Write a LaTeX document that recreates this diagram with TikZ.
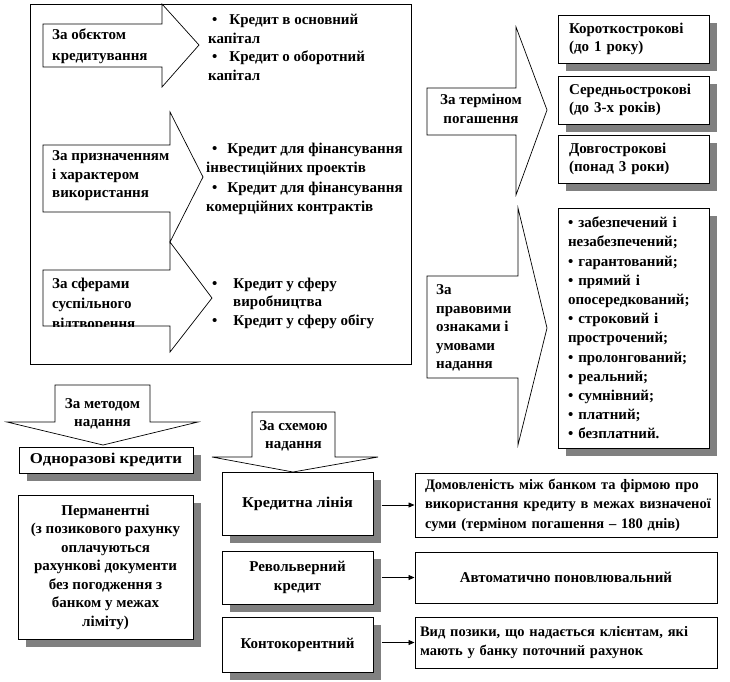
\documentclass[tikz,border=0pt]{standalone}
\usepackage{fontspec}
\usepackage{graphicx}
\setmainfont{Liberation Serif}
\usetikzlibrary{arrows.meta,shadows}
\begin{document}
\begin{tikzpicture}[x=1pt,y=-1pt,
  every node/.style={font=\fontsize{15}{18.5}\selectfont\bfseries, inner sep=0pt},
  arr/.style={draw, fill=white, line width=0.7pt, line join=miter},
  frame/.style={draw, line width=1pt},
  sbox/.style={draw, fill=white, line width=1pt, drop shadow={shadow xshift=8pt, shadow yshift=-8pt, opacity=1, fill=black!50}},
  pbox/.style={draw, fill=white, line width=1pt},
  conn/.style={line width=0.8pt, -{Triangle[length=6pt,width=5pt]}},
  txt/.style={align=left, anchor=west},
  smallfont/.style={font=\fontsize{14.5}{19.5}\selectfont\bfseries},
]
\useasboundingbox (0,0) rectangle (730,681);
\fill[white] (0,0) rectangle (730,681);

% big frame
\draw[frame] (30,4) rectangle (411,364);

% left arrows
\draw[arr] (43,24) -- (162,24) -- (162,4) -- (199,45) -- (162,87) -- (162,67) -- (43,67) -- cycle;
\draw[arr] (43,145) -- (170,145) -- (170,112) -- (203,177) -- (170,242) -- (170,212) -- (43,212) -- cycle;
\draw[arr] (43,270) -- (170,270) -- (170,242) -- (212,298) -- (170,352) -- (170,326) -- (43,326) -- cycle;

\node[txt] (a1) at (52,46) {За обєктом\\[2pt]кредитування};
\node[txt] (a2) at (52,176) {За призначенням\\і характером\\використання};
\begin{scope}
\clip (43,270) rectangle (170,326);
\node[txt] (a3) at (52,305) {За сферами\\[1.5pt]суспільного\\[1.5pt]відтворення};
\end{scope}

% lists inside frame
\node[txt] (l1) at (208,47.5) {\hspace*{4pt}•\hspace*{12pt}Кредит в основний\\капітал\\\hspace*{4pt}•\hspace*{12pt}Кредит о оборотний\\капітал};
\node[txt, font=\fontsize{15}{19.3}\selectfont\bfseries] (l2) at (206,179) {\hspace*{6pt}•\hspace*{10pt}Кредит для фінансування\\інвестиційних проектів\\\hspace*{6pt}•\hspace*{10pt}Кредит для фінансування\\комерційних контрактів};
\node[txt] (l3) at (208,303) {\hspace*{4pt}•\hspace*{16pt}Кредит у сферу\\\hspace*{25pt}виробництва\\\hspace*{4pt}•\hspace*{16pt}Кредит у сферу обігу};

% right arrows
\draw[arr] (427,88) -- (516,88) -- (516,27) -- (547,110) -- (516,195) -- (516,135) -- (427,135) -- cycle;
\node[align=center] (t1) at (481,109) {За терміном\\погашення};
\draw[arr] (427,276) -- (518,276) -- (518,208) -- (547,328) -- (518,445) -- (518,378) -- (427,378) -- cycle;
\node[txt] (t2) at (436,328) {За\\правовими\\ознаками і\\умовами\\надання};

% right boxes
\node[sbox, minimum width=151, minimum height=48, text width=129, inner xsep=11, align=left] (k1) at (633.5,39) {Короткострокові\\(до 1 року)};
\node[sbox, minimum width=151, minimum height=48, text width=129, inner xsep=11, align=left] (k2) at (633.5,100) {Середньострокові\\(до 3-х років)};
\node[sbox, minimum width=151, minimum height=48, text width=129, inner xsep=11, align=left] (k3) at (633.5,159) {Довгострокові\\(понад 3 роки)};
\node[sbox, minimum width=151, minimum height=240, text width=131, inner xsep=10, align=left, font=\fontsize{15}{19.2}\selectfont\bfseries] (pl) at (633.5,328) {• забезпечений і\\незабезпечений;\\• гарантований;\\• прямий і\\опосередкований;\\• строковий і\\прострочений;\\• пролонгований;\\• реальний;\\• сумнівний;\\• платний;\\• безплатний.};

% down arrows
\draw[arr] (55,385) -- (150,385) -- (150,422) -- (198,422) -- (103,445) -- (7,422) -- (55,422) -- cycle;
\node[align=center] (m1) at (102.5,414) {За методом\\надання};
\draw[arr] (252,412) -- (335,412) -- (335,457) -- (378,457) -- (293,472) -- (212,457) -- (252,457) -- cycle;
\node[align=center] (s1) at (293.5,436) {За схемою\\надання};

% bottom left boxes
\node[sbox, minimum width=174, minimum height=26] (od) at (106,460) {\scalebox{1.12}[1]{Одноразові кредити}};
\node[sbox, minimum width=175, minimum height=144, align=center] (pm) at (105.5,567) {Перманентні\\(з позикового рахунку\\оплачуються\\рахункові документи\\без погодження з\\банком у межах\\ліміту)};

% scheme boxes
\node[sbox, minimum width=151, minimum height=63] (kl) at (297.5,503.5) {\scalebox{1.08}[1]{Кредитна лінія}};
\node[sbox, minimum width=151, minimum height=53, align=center] (rv) at (297.5,577.5) {Револьверний\\кредит};
\node[sbox, minimum width=151, minimum height=55] (kk) at (297.5,644.5) {Контокорентний};

% description boxes
\node[pbox, smallfont, minimum width=302, minimum height=64, text width=282, inner xsep=10, align=left] (da) at (566,505) {\makebox[282pt][s]{Домовленість між банком та фірмою про}\\\makebox[282pt][s]{використання кредиту в межах визначеної}\\суми (терміном погашення – 180 днів)};
\node[pbox, minimum width=302, minimum height=51] (ap) at (566,577.5) {Автоматично поновлювальний};
\node[pbox, smallfont, minimum width=302, minimum height=51, text width=292, inner xsep=5, align=left] (vp) at (566,642.5) {\makebox[292pt][s]{Вид позики, що надається клієнтам, які}\\мають у банку поточний рахунок};

% connectors
\draw[conn] (da.west -| kl.east) ++(8,0) -- (da.west);
\draw[conn] (ap.west -| rv.east) ++(8,0) -- (ap.west);
\draw[conn] (vp.west -| kk.east) ++(8,0) -- (vp.west);
\end{tikzpicture}
\end{document}
